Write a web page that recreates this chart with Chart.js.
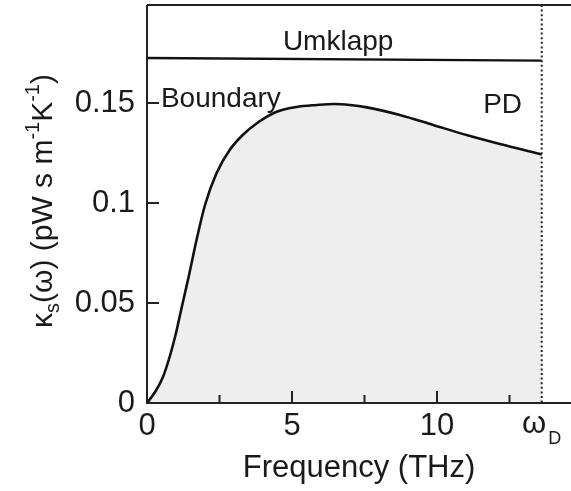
<!DOCTYPE html>
<html>
<head>
<meta charset="utf-8">
<script src="https://cdn.jsdelivr.net/npm/chart.js@4"></script>
<style>
  body { margin: 0; background: #fff; }
  #wrap { width: 571px; height: 491px; position: relative; }
</style>
</head>
<body>
<div id="wrap"><canvas id="kappaChart"></canvas></div>
<script>
// boundary-scattering curve (THz, pW s m^-1 K^-1)
const boundaryFreq = [0, 0.3, 0.55, 0.8, 1.0, 1.2, 1.45, 1.7, 2.0, 2.4, 2.85, 3.3, 3.8, 4.45, 5.15, 5.85, 6.45, 7.0, 7.58, 8.72, 9.87, 11.02, 12.17, 13.61];
const boundaryKappa = [0, 0.006, 0.013, 0.024, 0.035, 0.048, 0.064, 0.081, 0.099, 0.115, 0.1265, 0.134, 0.140, 0.1455, 0.148, 0.149, 0.1495, 0.149, 0.1478, 0.144, 0.139, 0.134, 0.1295, 0.1243];

// umklapp line (almost flat)
const umklappFreq = [0, 13.61];
const umklappKappa = [0.1725, 0.1712];

// Debye frequency
const debyeFreq = 13.61;

// ticks
const xLabelTicks = [0, 5, 10];
const xMinorTicks = [2.5, 7.5, 12.5];
const yLabelTicks = [0, 0.05, 0.1, 0.15];

// text labels inside the plot
const noteText = ["Umklapp", "Boundary", "PD"];
const noteFreq = [6.59, 0.48, 11.59];
const noteKappa = [0.1765, 0.148, 0.145];
const noteAlign = ["center", "left", "left"];

const FONT = "'Liberation Sans', Arial, sans-serif";
const INK = "#1a1a1a";

function toPoints(xs, ys) {
  return xs.map((x, i) => ({ x: x, y: ys[i] }));
}

// frame, inward ticks, dotted Debye line, notes and the y title
const decorPlugin = {
  id: "decor",
  afterDatasetsDraw(chart) {
    const ctx = chart.ctx;
    const area = chart.chartArea;
    const xs = chart.scales.x;
    const ys = chart.scales.y;

    ctx.save();
    // dotted line at omega_D
    const xd = xs.getPixelForValue(debyeFreq);
    ctx.strokeStyle = "#222";
    ctx.lineWidth = 2;
    ctx.setLineDash([2, 2.6]);
    ctx.beginPath();
    ctx.moveTo(xd, area.top);
    ctx.lineTo(xd, area.bottom);
    ctx.stroke();
    ctx.setLineDash([]);

    // frame: left, top, bottom
    ctx.strokeStyle = "#222";
    ctx.lineWidth = 2;
    ctx.beginPath();
    ctx.moveTo(area.left, area.top);
    ctx.lineTo(area.right, area.top);
    ctx.moveTo(area.left, area.top);
    ctx.lineTo(area.left, area.bottom);
    ctx.lineTo(area.right, area.bottom);
    ctx.stroke();

    // ticks pointing in
    ctx.beginPath();
    xLabelTicks.forEach((v) => {
      if (v === 0) return;
      const px = xs.getPixelForValue(v);
      ctx.moveTo(px, area.bottom);
      ctx.lineTo(px, area.bottom - 12);
    });
    xMinorTicks.forEach((v) => {
      const px = xs.getPixelForValue(v);
      ctx.moveTo(px, area.bottom);
      ctx.lineTo(px, area.bottom - 8);
    });
    yLabelTicks.forEach((v) => {
      if (v === 0) return;
      const py = ys.getPixelForValue(v);
      ctx.moveTo(area.left, py);
      ctx.lineTo(area.left + 12, py);
    });
    ctx.stroke();

    // notes
    ctx.fillStyle = INK;
    ctx.font = "28px " + FONT;
    ctx.textBaseline = "alphabetic";
    noteText.forEach((t, i) => {
      ctx.textAlign = noteAlign[i];
      ctx.fillText(t, xs.getPixelForValue(noteFreq[i]), ys.getPixelForValue(noteKappa[i]));
    });

    // omega_D tick label
    ctx.textAlign = "left";
    ctx.font = "31px " + FONT;
    const wW = ctx.measureText("ω").width;
    ctx.font = "18px " + FONT;
    const dW = ctx.measureText("D").width;
    let x0 = xd - (wW + dW + 2) / 2;
    ctx.font = "31px " + FONT;
    ctx.fillText("ω", x0, area.bottom + 30);
    ctx.font = "18px " + FONT;
    ctx.fillText("D", x0 + wW + 2, area.bottom + 41);

    // y title with sub/superscripts
    const parts = [
      ["κ", 0], ["s", 1], ["(ω) (pW s m", 0], ["-1", -1], ["K", 0], ["-1", -1], [")", 0]
    ];
    const fontFor = (k) => (k === 0 ? "30px " : "20px ") + FONT;
    let total = 0;
    parts.forEach((p) => {
      ctx.font = fontFor(p[1]);
      total += ctx.measureText(p[0]).width;
    });
    ctx.translate(52, (area.top + area.bottom) / 2 - 3);
    ctx.rotate(-Math.PI / 2);
    let cx = -total / 2;
    parts.forEach((p) => {
      ctx.font = fontFor(p[1]);
      const dy = p[1] === 1 ? 7 : p[1] === -1 ? -13 : 0;
      ctx.fillText(p[0], cx, dy);
      cx += ctx.measureText(p[0]).width;
    });
    ctx.restore();
  },
};

const ctx = document.getElementById("kappaChart").getContext("2d");
new Chart(ctx, {
  type: "scatter",
  data: {
    datasets: [
      {
        label: "Boundary",
        data: toPoints(boundaryFreq, boundaryKappa),
        showLine: true,
        borderColor: "#111",
        borderWidth: 2.6,
        backgroundColor: "#eeeeee",
        fill: "origin",
        pointRadius: 0,
        cubicInterpolationMode: "monotone",
      },
      {
        label: "Umklapp",
        data: toPoints(umklappFreq, umklappKappa),
        showLine: true,
        borderColor: "#111",
        borderWidth: 2.4,
        fill: false,
        pointRadius: 0,
      },
    ],
  },
  options: {
    responsive: true,
    maintainAspectRatio: false,
    animation: false,
    layout: { padding: { top: 5, right: 0, left: 0, bottom: 0 } },
    plugins: {
      legend: { display: false },
      tooltip: { enabled: false },
    },
    scales: {
      x: {
        type: "linear",
        min: 0,
        max: 14.62,
        grid: { display: false, drawTicks: false },
        border: { display: false },
        afterBuildTicks: (s) => { s.ticks = xLabelTicks.map((v) => ({ value: v })); },
        afterFit: (s) => {
          s.height = 88;
          s.paddingLeft = 0;
          s.paddingRight = 0;
        },
        ticks: {
          font: { family: FONT, size: 31 },
          color: INK,
          padding: 5,
          maxRotation: 0,
          autoSkip: false,
          callback: (v) => String(v),
        },
        title: {
          display: true,
          text: "Frequency (THz)",
          font: { family: FONT, size: 31 },
          color: INK,
          padding: { top: 0, bottom: 4 },
        },
      },
      y: {
        min: 0,
        max: 0.199,
        grid: { display: false, drawTicks: false },
        border: { display: false },
        afterBuildTicks: (s) => { s.ticks = yLabelTicks.map((v) => ({ value: v })); },
        afterFit: (s) => {
          s.width = 147;
          s.paddingTop = 0;
          s.paddingBottom = 0;
        },
        ticks: {
          font: { family: FONT, size: 31 },
          color: INK,
          padding: 12,
          callback: (v) => String(v),
        },
      },
    },
  },
  plugins: [decorPlugin],
});
</script>
</body>
</html>
